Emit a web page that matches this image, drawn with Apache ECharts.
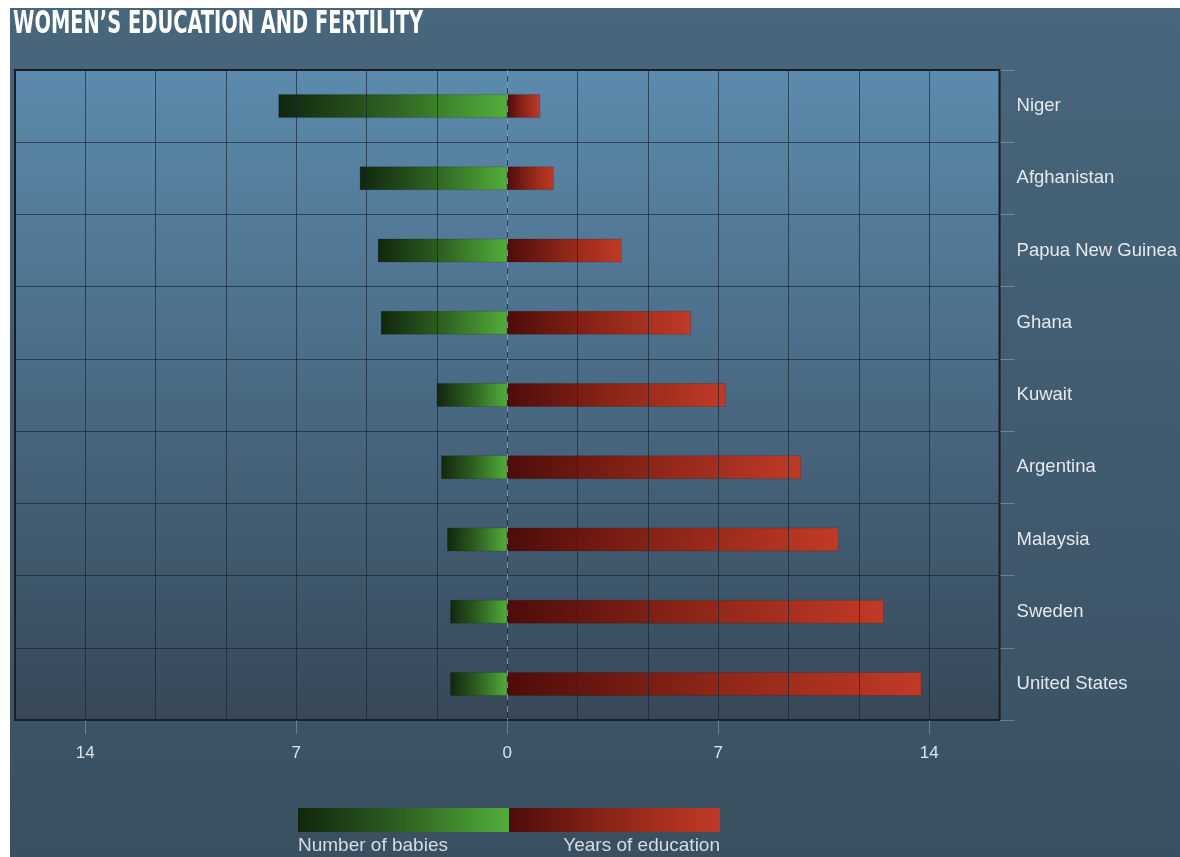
<!DOCTYPE html>
<html>
<head>
<meta charset="utf-8">
<script src="https://cdn.jsdelivr.net/npm/echarts@6/dist/echarts.min.js"></script>
<style>
    html, body { margin: 0; padding: 0; background: #fff; }
    #chart { width: 1180px; height: 857px; }
</style>
</head>
<body>
<div id="chart"></div>
<script>
// countries, top to bottom
const countries = ['Niger', 'Afghanistan', 'Papua New Guinea', 'Ghana', 'Kuwait',
    'Argentina', 'Malaysia', 'Sweden', 'United States'];
// number of babies per woman (drawn to the left)
const babies = [7.6, 4.9, 4.3, 4.2, 2.35, 2.2, 2.0, 1.9, 1.9];
// years of education (drawn to the right)
const education = [1.1, 1.55, 3.8, 6.1, 7.25, 9.75, 11.0, 12.5, 13.75];
const tickValues = [-14, -7, 0, 7, 14];

const chart = echarts.init(document.getElementById('chart'));

const greenGrad = new echarts.graphic.LinearGradient(0, 0, 1, 0, [
    {offset: 0, color: '#11260e'},
    {offset: 0.5, color: '#2f6221'},
    {offset: 1, color: '#52ae3a'}
]);
const redGrad = new echarts.graphic.LinearGradient(0, 0, 1, 0, [
    {offset: 0, color: '#4e0c0a'},
    {offset: 0.5, color: '#8e2618'},
    {offset: 1, color: '#c13a27'}
]);
const lim = 49 / 3;
const gridColor = 'rgba(22,34,46,0.65)';

const option = {
    backgroundColor: '#fff',
    animation: false,
    graphic: [
        {
            type: 'rect', z: -10, silent: true,
            shape: {x: 10, y: 8, width: 1170, height: 849},
            style: {
                fill: new echarts.graphic.LinearGradient(0, 0, 0, 1, [
                    {offset: 0, color: '#48667c'},
                    {offset: 1, color: '#3a5061'}
                ])
            }
        },
        {
            type: 'text', left: 13, top: 9, z: 10,
            scaleX: 0.675,
            style: {
                text: 'WOMEN\u2019S EDUCATION AND FERTILITY',
                font: 'bold 32px "DejaVu Sans Condensed"',
                fill: '#ffffff',
                shadowColor: 'rgba(0,0,0,0.4)', shadowBlur: 2
            }
        },
        {
            type: 'rect', z: 10,
            shape: {x: 298, y: 808, width: 211, height: 24},
            style: {fill: greenGrad}
        },
        {
            type: 'rect', z: 10,
            shape: {x: 509, y: 808, width: 211, height: 24},
            style: {fill: redGrad}
        },
        {
            type: 'text', left: 298, top: 836, z: 10,
            style: {text: 'Number of babies', font: '19px "Liberation Sans"', fill: '#d5dde3'}
        },
        {
            type: 'text', right: 460, top: 836, z: 10,
            style: {text: 'Years of education', font: '19px "Liberation Sans"', fill: '#d5dde3'}
        }
    ],
    grid: {
        left: 15, right: 180, top: 70, bottom: 137,
        show: true,
        borderColor: '#1b1d1f', borderWidth: 2,
        backgroundColor: new echarts.graphic.LinearGradient(0, 0, 0, 1, [
            {offset: 0, color: '#5c8bad'},
            {offset: 1, color: '#364858'}
        ])
    },
    xAxis: [
        {
            type: 'value',
            min: -lim, max: lim,
            z: 5,
            axisLine: {show: false},
            axisTick: {
                show: true, customValues: tickValues, length: 14,
                lineStyle: {color: 'rgba(255,255,255,0.25)', width: 1}
            },
            axisLabel: {
                customValues: tickValues, margin: 25,
                color: '#dde4ea', fontSize: 17, fontFamily: 'Liberation Sans',
                formatter: v => String(Math.abs(Math.round(v)))
            },
            splitLine: {show: false}
        },
        {
            // only used for the grid lines, every 7/3 units
            type: 'value',
            min: -lim, max: lim, interval: 7 / 3,
            z: 5,
            axisLine: {show: false},
            axisTick: {show: false},
            axisLabel: {show: false},
            splitLine: {show: true, lineStyle: {color: gridColor, width: 1}}
        }
    ],
    yAxis: {
        type: 'category',
        data: countries,
        inverse: true,
        position: 'right',
        axisLine: {show: false, onZero: false},
        axisTick: {show: true, length: 15, lineStyle: {color: 'rgba(255,255,255,0.25)'}},
        axisLabel: {
            margin: 17, color: '#e3e9ee', fontSize: 18.5, fontFamily: 'Liberation Sans'
        },
        splitLine: {show: true, lineStyle: {color: gridColor, width: 1}}
    },
    series: [
        {
            name: 'Number of babies',
            type: 'bar', stack: 'a', barWidth: 24,
            data: babies.map(v => -v),
            itemStyle: {color: greenGrad, borderColor: 'rgba(0,0,0,0.15)', borderWidth: 1}
        },
        {
            name: 'Years of education',
            type: 'bar', stack: 'a', barWidth: 24,
            data: education,
            itemStyle: {color: redGrad, borderColor: 'rgba(0,0,0,0.15)', borderWidth: 1},
            markLine: {
                silent: true, symbol: 'none', label: {show: false},
                lineStyle: {color: 'rgba(255,255,255,0.45)', type: [6, 6], width: 1},
                data: [{xAxis: 0}]
            }
        }
    ]
};
chart.setOption(option);
</script>
</body>
</html>
